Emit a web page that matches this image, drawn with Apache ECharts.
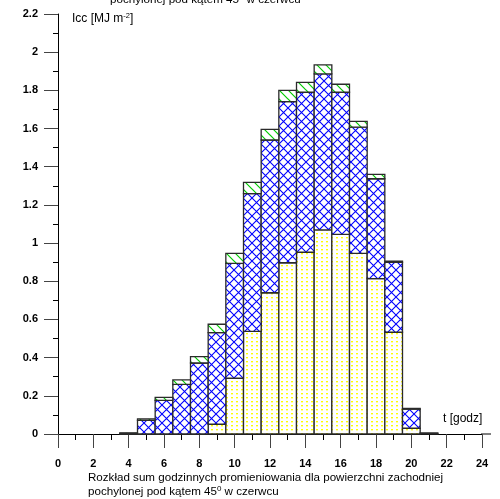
<!DOCTYPE html>
<html><head><meta charset="utf-8">
<script src="https://cdn.jsdelivr.net/npm/echarts@6/dist/echarts.min.js"></script>
<style>html,body{margin:0;padding:0;background:#fff}#c{width:500px;height:499px}</style>
</head><body><div id="c"></div>
<script>
// hour of day (bar centre)
const hours      = [4,     5,     6,     7,     8,     9,     10,    11,    12,    13,    14,    15,    16,    17,    18,    19,    20,    21];
// bottom segment (yellow dotted)
const yellowVals = [0,     0,     0,     0,     0,     0.051, 0.292, 0.538, 0.740, 0.897, 0.952, 1.069, 1.046, 0.946, 0.814, 0.533, 0.030, 0.003];
// middle segment (blue cross-hatch)
const blueVals   = [0.003, 0.071, 0.176, 0.260, 0.372, 0.480, 0.602, 0.721, 0.800, 0.844, 0.838, 0.817, 0.744, 0.661, 0.523, 0.366, 0.100, 0];
// top segment (green hatch)
const greenVals  = [0.003, 0.008, 0.016, 0.023, 0.033, 0.044, 0.052, 0.059, 0.056, 0.059, 0.052, 0.047, 0.042, 0.031, 0.023, 0.007, 0.004, 0.002];

const FONT = 'Liberation Sans, Arial, sans-serif';

function makePattern(w, h, draw) {
  const c = document.createElement('canvas');
  c.width = w; c.height = h;
  const ctx = c.getContext('2d');
  ctx.fillStyle = '#ffffff';
  ctx.fillRect(0, 0, w, h);
  draw(ctx, w, h);
  return { image: c, repeat: 'repeat' };
}
const yellowFill = makePattern(5, 4, (ctx) => {
  ctx.fillStyle = '#ffff00';
  ctx.fillRect(1, 1, 2, 1);
  ctx.fillStyle = '#ffffa0';
  ctx.fillRect(1, 2, 2, 1);
});
const blueFill = makePattern(9, 9, (ctx, w, h) => {
  ctx.strokeStyle = '#0000ff';
  ctx.lineWidth = 1.1;
  ctx.beginPath();
  ctx.moveTo(-1, -1); ctx.lineTo(w + 1, h + 1);
  ctx.moveTo(w + 1, -1); ctx.lineTo(-1, h + 1);
  ctx.stroke();
});
const greenFill = makePattern(9, 9, (ctx, w, h) => {
  ctx.strokeStyle = '#00cc00';
  ctx.lineWidth = 1.2;
  ctx.beginPath();
  ctx.moveTo(-1, -1); ctx.lineTo(w + 1, h + 1);
  ctx.moveTo(-w - 1, -1); ctx.lineTo(1, h + 1);
  ctx.moveTo(w - 1, -1); ctx.lineTo(2 * w + 1, h + 1);
  ctx.stroke();
});

function cumulate(a, b) { return a.map((v, i) => v + (b ? b[i] : 0)); }
const zeroBase = hours.map(() => 0);
const blueBase = cumulate(yellowVals);
const greenBase = cumulate(blueBase, blueVals);

function segSeries(name, bases, vals, fill) {
  const data = hours.map((h, i) => [h, bases[i], bases[i] + vals[i]]);
  return {
    type: 'custom', name, data,
    encode: { x: 0, y: [1, 2] },
    renderItem: (params, api) => {
      const h = api.value(0), b = api.value(1), t = api.value(2);
      const p1 = api.coord([h - 0.5, t]);
      const p2 = api.coord([h + 0.5, b]);
      return {
        type: 'rect',
        shape: { x: p1[0], y: p1[1], width: p2[0] - p1[0], height: p2[1] - p1[1] },
        style: { fill: fill, stroke: '#2a2a2a', lineWidth: 1.3 }
      };
    }
  };
}

const chart = echarts.init(document.getElementById('c'), null, { renderer: 'canvas' });
chart.setOption({
  animation: false,
  backgroundColor: '#ffffff',
  grid: { left: 58, right: 18, top: 14, bottom: 65 },
  xAxis: {
    type: 'value', min: 0, max: 24, interval: 2,
    axisLine: { show: true, onZero: false, lineStyle: { color: '#000', width: 1 } },
    axisTick: { show: true, length: 14, lineStyle: { color: '#444', width: 1 } },
    minorTick: { show: true, splitNumber: 2, length: 6, lineStyle: { color: '#000', width: 1 } },
    splitLine: { show: false },
    axisLabel: { color: '#000', fontWeight: 'bold', fontSize: 11, fontFamily: FONT, margin: 24 }
  },
  yAxis: {
    type: 'value', min: 0, max: 2.2, interval: 0.2,
    axisLine: { show: true, onZero: false, lineStyle: { color: '#000', width: 1 } },
    axisTick: { show: true, length: 14, lineStyle: { color: '#444', width: 1 } },
    minorTick: { show: true, splitNumber: 2, length: 5, lineStyle: { color: '#000', width: 1 } },
    splitLine: { show: false },
    axisLabel: { color: '#000', fontWeight: 'bold', fontSize: 11, fontFamily: FONT, margin: 20 }
  },
  series: [
    segSeries('yellow', zeroBase, yellowVals, yellowFill),
    segSeries('blue', blueBase, blueVals, blueFill),
    segSeries('green', greenBase, greenVals, greenFill)
  ],
  graphic: [
    { type: 'line', shape: { x1: 481, y1: 434, x2: 491, y2: 434 }, style: { stroke: '#000', lineWidth: 1 } },
    { type: 'text', left: 110, top: -7,
      style: { text: '{n|pochylonej pod kątem 45}{s|0}{n| w czerwcu}', fill: '#000',
        rich: { n: { fontSize: 11.6, fontFamily: FONT, fill: '#000' }, s: { fontSize: 8, fontFamily: FONT, fill: '#000', padding: [0, 0, 5, 0] } } } },
    { type: 'text', left: 72, top: 12,
      style: { text: '{n|Icc [MJ m}{s|-2}{n|]}', fill: '#000',
        rich: { n: { fontSize: 12, fontFamily: FONT, fill: '#000' }, s: { fontSize: 7.5, fontFamily: FONT, fill: '#000', padding: [0, 0, 6, 0] } } } },
    { type: 'text', left: 443, top: 413,
      style: { text: 't [godz]', fontSize: 12, fontFamily: FONT, fill: '#000' } },
    { type: 'text', left: 88, top: 472,
      style: { text: 'Rozkład sum godzinnych promieniowania dla powierzchni zachodniej', fontSize: 11.6, fontFamily: FONT, fill: '#000' } },
    { type: 'text', left: 88, top: 485,
      style: { text: '{n|pochylonej pod kątem 45}{s|0}{n| w czerwcu}', fill: '#000',
        rich: { n: { fontSize: 11.6, fontFamily: FONT, fill: '#000' }, s: { fontSize: 8, fontFamily: FONT, fill: '#000', padding: [0, 0, 5, 0] } } } }
  ]
});
</script>
</body></html>
